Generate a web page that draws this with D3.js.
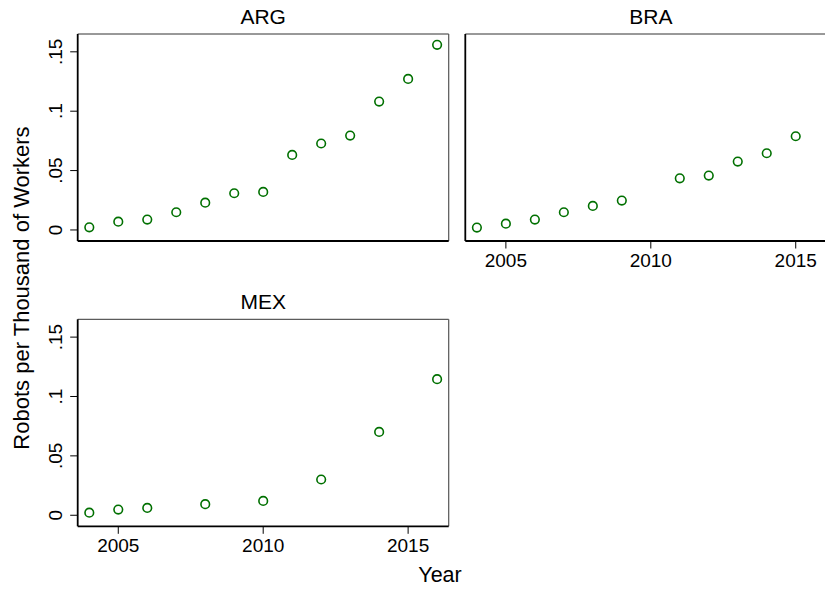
<!DOCTYPE html>
<html>
<head>
<meta charset="utf-8">
<script src="https://cdn.jsdelivr.net/npm/d3@7"></script>
<style>
  html, body { margin: 0; padding: 0; background: #fff; }
  svg { display: block; }
</style>
</head>
<body>
<svg id="chart" width="825" height="591"></svg>
<script>
// ---- data ----
const countries = ["ARG", "BRA", "MEX"];
const argYears = [2004, 2005, 2006, 2007, 2008, 2009, 2010, 2011, 2012, 2013, 2014, 2015, 2016];
const argValues = [0.0022, 0.0070, 0.0087, 0.0149, 0.0230, 0.0309, 0.0320, 0.0632, 0.0728, 0.0795, 0.1081, 0.1272, 0.1559];
const braYears = [2004, 2005, 2006, 2007, 2008, 2009, 2011, 2012, 2013, 2014, 2015];
const braValues = [0.0020, 0.0053, 0.0087, 0.0149, 0.0202, 0.0247, 0.0435, 0.0458, 0.0576, 0.0646, 0.0789];
const mexYears = [2004, 2005, 2006, 2008, 2010, 2012, 2014, 2016];
const mexValues = [0.0022, 0.0048, 0.0062, 0.0093, 0.0121, 0.0301, 0.0702, 0.1146];
const xTicks = [2005, 2010, 2015];
const yTicks = [0, 0.05, 0.1, 0.15];
const yTickLabels = ["0", ".05", ".1", ".15"];
const yTitle = "Robots per Thousand of Workers";
const xTitle = "Year";

const seriesByCountry = {
  ARG: { years: argYears, values: argValues },
  BRA: { years: braYears, values: braValues },
  MEX: { years: mexYears, values: mexValues }
};

// ---- layout ----
const svg = d3.select("#chart");
const font = "'Liberation Sans', Arial, Helvetica, sans-serif";
const pw = 371, ph = 207;
const panels = {
  ARG: { x: 77.7, y: 34, xAxis: false },
  BRA: { x: 465.3, y: 34, xAxis: true },
  MEX: { x: 77.7, y: 319.3, xAxis: true }
};
const yAxisShown = { ARG: true, BRA: false, MEX: true };
const markerColor = "#007000";

const x = d3.scaleLinear().domain([2003.6, 2016.4]).range([0, pw]);
const y = d3.scaleLinear().domain([-0.0093, 0.1650]).range([ph, 0]);

countries.forEach(c => {
  const p = panels[c];
  const g = svg.append("g").attr("transform", `translate(${p.x},${p.y})`);

  // frame: top & right thin
  g.append("line").attr("x1", 0).attr("x2", pw).attr("y1", 0).attr("y2", 0)
    .attr("stroke", "#333").attr("stroke-width", 1);
  g.append("line").attr("x1", pw).attr("x2", pw).attr("y1", 0).attr("y2", ph)
    .attr("stroke", "#555").attr("stroke-width", 1.2);

  // title
  g.append("text").attr("x", pw / 2).attr("y", -10)
    .attr("text-anchor", "middle").attr("font-family", font).attr("font-size", 21)
    .attr("fill", "#000").text(c);

  // y axis
  const yAx = g.append("g");
  yAx.append("line").attr("x1", 0).attr("x2", 0).attr("y1", 0).attr("y2", ph)
    .attr("stroke", "#000").attr("stroke-width", 1.8);
  if (yAxisShown[c]) {
    yTicks.forEach((t, i) => {
      yAx.append("line").attr("x1", -7.5).attr("x2", 0).attr("y1", y(t)).attr("y2", y(t))
        .attr("stroke", "#000").attr("stroke-width", 1);
      yAx.append("text")
        .attr("transform", `translate(-16,${y(t)}) rotate(-90)`)
        .attr("text-anchor", "middle").attr("font-family", font).attr("font-size", 19)
        .attr("fill", "#000").text(yTickLabels[i]);
    });
  }

  // x axis
  const xAx = g.append("g").attr("transform", `translate(0,${ph})`);
  xAx.append("line").attr("x1", 0).attr("x2", pw).attr("y1", 0).attr("y2", 0)
    .attr("stroke", "#000").attr("stroke-width", 1.8);
  if (p.xAxis) {
    xTicks.forEach(t => {
      xAx.append("line").attr("x1", x(t)).attr("x2", x(t)).attr("y1", 0).attr("y2", 7.5)
        .attr("stroke", "#000").attr("stroke-width", 1);
      xAx.append("text").attr("x", x(t)).attr("y", 25.5)
        .attr("text-anchor", "middle").attr("font-family", font).attr("font-size", 19)
        .attr("fill", "#000").text(t);
    });
  }

  // points
  const s = seriesByCountry[c];
  g.selectAll("circle.pt").data(s.years.map((yr, i) => ({ yr, v: s.values[i] })))
    .enter().append("circle").attr("class", "pt")
    .attr("cx", d => x(d.yr)).attr("cy", d => y(d.v)).attr("r", 4.3)
    .attr("fill", "none").attr("stroke", markerColor).attr("stroke-width", 1.6);
});

// axis titles
svg.append("text")
  .attr("transform", "translate(29,288) rotate(-90)")
  .attr("text-anchor", "middle").attr("font-family", font).attr("font-size", 22)
  .attr("fill", "#000").text(yTitle);
svg.append("text").attr("x", 440).attr("y", 581.5)
  .attr("text-anchor", "middle").attr("font-family", font).attr("font-size", 21.5)
  .attr("fill", "#000").text(xTitle);
</script>
</body>
</html>
